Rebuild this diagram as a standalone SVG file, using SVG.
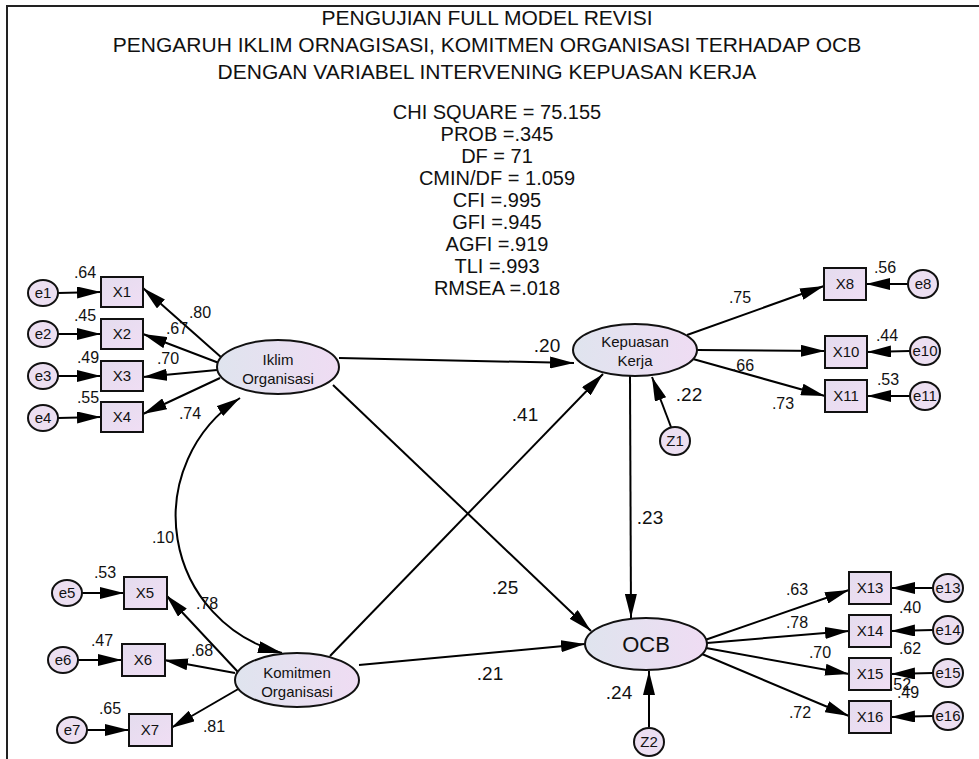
<svg xmlns="http://www.w3.org/2000/svg" width="979" height="759" viewBox="0 0 979 759">
<defs>
<marker id="ah" markerUnits="userSpaceOnUse" markerWidth="24" markerHeight="12" refX="24" refY="6" orient="auto-start-reverse"><path d="M0,0 L24,6 L0,12 z" fill="#000"/></marker>
<linearGradient id="gl" x1="0" y1="0" x2="1" y2="0"><stop offset="0" stop-color="#dfe4ee"/><stop offset="1" stop-color="#efdcf3"/></linearGradient>
<linearGradient id="gb" x1="0" y1="0" x2="1" y2="1"><stop offset="0" stop-color="#e4dcee"/><stop offset="1" stop-color="#f0def4"/></linearGradient>
</defs>
<style>
text{font-family:"Liberation Sans",Arial,sans-serif;fill:#111;}
.t{font-size:21px;text-anchor:middle;}
.s{font-size:20px;text-anchor:middle;}
.n{font-size:15px;text-anchor:middle;}
.big{font-size:22px;text-anchor:middle;}
.l{font-size:16px;text-anchor:middle;}
.L{font-size:19px;text-anchor:middle;}
.box{fill:url(#gb);stroke:#111;stroke-width:2;}
.lat{fill:url(#gl);stroke:#111;stroke-width:2;}
.err{fill:#ecdff1;stroke:#111;stroke-width:2;}
.c line,.c path{stroke:#000;stroke-width:2;fill:none;marker-end:url(#ah);}
</style>
<rect width="979" height="759" fill="#fff"/>
<path d="M979 6 H7 V759" fill="none" stroke="#222" stroke-width="2"/>
<g id="title">
<text class="t" x="487" y="25">PENGUJIAN FULL MODEL REVISI</text>
<text class="t" x="487" y="52">PENGARUH IKLIM ORNAGISASI, KOMITMEN ORGANISASI TERHADAP OCB</text>
<text class="t" x="487" y="79">DENGAN VARIABEL INTERVENING KEPUASAN KERJA</text>
</g>
<g id="stats">
<text class="s" x="497" y="119">CHI SQUARE = 75.155</text>
<text class="s" x="497" y="141">PROB =.345</text>
<text class="s" x="497" y="163">DF = 71</text>
<text class="s" x="497" y="185">CMIN/DF = 1.059</text>
<text class="s" x="497" y="207">CFI =.995</text>
<text class="s" x="497" y="229">GFI =.945</text>
<text class="s" x="497" y="251">AGFI =.919</text>
<text class="s" x="497" y="273">TLI =.993</text>
<text class="s" x="497" y="295">RMSEA =.018</text>
</g>
<g id="connectors" class="c">
<line x1="58" y1="293" x2="101" y2="292"/>
<line x1="58" y1="334" x2="101" y2="334"/>
<line x1="58" y1="376" x2="101" y2="376"/>
<line x1="58" y1="418" x2="101" y2="417"/>
<line x1="82" y1="593" x2="124" y2="593"/>
<line x1="78" y1="660" x2="122" y2="660"/>
<line x1="87" y1="730" x2="129" y2="730"/>
<line x1="908" y1="284" x2="866" y2="284"/>
<line x1="910" y1="351" x2="867" y2="352"/>
<line x1="910" y1="396" x2="867" y2="396"/>
<line x1="933" y1="588" x2="891" y2="588"/>
<line x1="933" y1="630" x2="891" y2="631"/>
<line x1="933" y1="673" x2="891" y2="674"/>
<line x1="933" y1="716" x2="891" y2="717"/>
<line x1="222" y1="358" x2="143" y2="288"/>
<line x1="219" y1="363" x2="143" y2="334"/>
<line x1="217" y1="370" x2="143" y2="377"/>
<line x1="220" y1="378" x2="143" y2="414"/>
<line x1="238" y1="672" x2="166" y2="595"/>
<line x1="235" y1="673" x2="164" y2="660"/>
<line x1="240" y1="688" x2="171" y2="728"/>
<path d="M240 398 A141 141 0 0 0 282 653" style="marker-start:url(#ah)"/>
<line x1="339" y1="358" x2="574" y2="363"/>
<line x1="333" y1="385" x2="591" y2="631"/>
<line x1="330" y1="656" x2="603" y2="374"/>
<line x1="359" y1="665" x2="585" y2="644"/>
<line x1="630" y1="376" x2="631" y2="618"/>
<line x1="671" y1="427" x2="652" y2="377"/>
<line x1="649" y1="727" x2="649" y2="671"/>
<line x1="687" y1="335" x2="824" y2="286"/>
<line x1="697" y1="350" x2="825" y2="351"/>
<line x1="693" y1="359" x2="825" y2="396"/>
<line x1="705" y1="640" x2="849" y2="590"/>
<line x1="707" y1="643" x2="849" y2="631"/>
<line x1="706" y1="648" x2="849" y2="674"/>
<line x1="702" y1="654" x2="849" y2="716"/>
</g>
<g id="Iklim"><ellipse class="lat" cx="278" cy="367" rx="61" ry="27"/><text class="n" x="278" y="365">Iklim</text><text class="n" x="278" y="384">Organisasi</text></g>
<g id="Komitmen"><ellipse class="lat" cx="297" cy="680" rx="62" ry="27"/><text class="n" x="297" y="678">Komitmen</text><text class="n" x="297" y="697">Organisasi</text></g>
<g id="Kepuasan"><ellipse class="lat" cx="635" cy="350" rx="62" ry="26"/><text class="n" x="635" y="347">Kepuasan</text><text class="n" x="635" y="366">Kerja</text></g>
<g id="OCB"><ellipse class="lat" cx="646" cy="644" rx="61" ry="26"/><text class="big" x="646" y="652">OCB</text></g>
<g id="Z1"><ellipse class="err" cx="675" cy="441" rx="15" ry="14"/><text class="n" x="675" y="446">Z1</text></g>
<g id="Z2"><ellipse class="err" cx="649" cy="742" rx="15" ry="14"/><text class="n" x="649" y="747">Z2</text></g>
<g id="X1"><rect class="box" x="101" y="277" width="42" height="30"/><text class="n" x="122" y="297">X1</text></g>
<g id="X2"><rect class="box" x="101" y="319" width="42" height="30"/><text class="n" x="122" y="339">X2</text></g>
<g id="X3"><rect class="box" x="101" y="361" width="42" height="30"/><text class="n" x="122" y="381">X3</text></g>
<g id="X4"><rect class="box" x="101" y="402" width="42" height="30"/><text class="n" x="122" y="422">X4</text></g>
<g id="X5"><rect class="box" x="124" y="577" width="43" height="32"/><text class="n" x="145" y="598">X5</text></g>
<g id="X6"><rect class="box" x="122" y="644" width="43" height="32"/><text class="n" x="143" y="665">X6</text></g>
<g id="X7"><rect class="box" x="129" y="714" width="43" height="32"/><text class="n" x="150" y="735">X7</text></g>
<g id="X8"><rect class="box" x="824" y="268" width="42" height="32"/><text class="n" x="845" y="289">X8</text></g>
<g id="X10"><rect class="box" x="825" y="336" width="42" height="32"/><text class="n" x="846" y="357">X10</text></g>
<g id="X11"><rect class="box" x="825" y="380" width="42" height="32"/><text class="n" x="846" y="401">X11</text></g>
<g id="X13"><rect class="box" x="849" y="572" width="42" height="32"/><text class="n" x="870" y="593">X13</text></g>
<g id="X14"><rect class="box" x="849" y="615" width="42" height="32"/><text class="n" x="870" y="636">X14</text></g>
<g id="X15"><rect class="box" x="849" y="658" width="42" height="32"/><text class="n" x="870" y="679">X15</text></g>
<g id="X16"><rect class="box" x="849" y="701" width="42" height="32"/><text class="n" x="870" y="722">X16</text></g>
<g id="e1"><ellipse class="err" cx="43" cy="293" rx="15" ry="13"/><text class="n" x="43" y="298">e1</text></g>
<g id="e2"><ellipse class="err" cx="43" cy="334" rx="15" ry="13"/><text class="n" x="43" y="339">e2</text></g>
<g id="e3"><ellipse class="err" cx="43" cy="376" rx="15" ry="13"/><text class="n" x="43" y="381">e3</text></g>
<g id="e4"><ellipse class="err" cx="43" cy="418" rx="15" ry="13"/><text class="n" x="43" y="423">e4</text></g>
<g id="e5"><ellipse class="err" cx="67" cy="593" rx="15" ry="13"/><text class="n" x="67" y="598">e5</text></g>
<g id="e6"><ellipse class="err" cx="63" cy="660" rx="15" ry="13"/><text class="n" x="63" y="665">e6</text></g>
<g id="e7"><ellipse class="err" cx="72" cy="730" rx="15" ry="13"/><text class="n" x="72" y="735">e7</text></g>
<g id="e8"><ellipse class="err" cx="923" cy="284" rx="15" ry="14"/><text class="n" x="923" y="289">e8</text></g>
<g id="e10"><ellipse class="err" cx="925" cy="351" rx="15" ry="14"/><text class="n" x="925" y="356">e10</text></g>
<g id="e11"><ellipse class="err" cx="925" cy="396" rx="15" ry="14"/><text class="n" x="925" y="401">e11</text></g>
<g id="e13"><ellipse class="err" cx="948" cy="588" rx="15" ry="14"/><text class="n" x="948" y="593">e13</text></g>
<g id="e14"><ellipse class="err" cx="948" cy="630" rx="15" ry="14"/><text class="n" x="948" y="635">e14</text></g>
<g id="e15"><ellipse class="err" cx="948" cy="673" rx="15" ry="14"/><text class="n" x="948" y="678">e15</text></g>
<g id="e16"><ellipse class="err" cx="948" cy="716" rx="15" ry="14"/><text class="n" x="948" y="721">e16</text></g>
<g id="labels">
<text class="l" x="85" y="278">.64</text>
<text class="l" x="85" y="321">.45</text>
<text class="l" x="88" y="363">.49</text>
<text class="l" x="88" y="403">.55</text>
<text class="l" x="200" y="318">.80</text>
<text class="l" x="177" y="334">.67</text>
<text class="l" x="168" y="364">.70</text>
<text class="l" x="190" y="419">.74</text>
<text class="l" x="105" y="578">.53</text>
<text class="l" x="102" y="646">.47</text>
<text class="l" x="110" y="714">.65</text>
<text class="l" x="207" y="609">.78</text>
<text class="l" x="202" y="656">.68</text>
<text class="l" x="214" y="732">.81</text>
<text class="l" x="163" y="543">.10</text>
<text class="L" x="547" y="352">.20</text>
<text class="L" x="525" y="421">.41</text>
<text class="L" x="505" y="594">.25</text>
<text class="L" x="490" y="680">.21</text>
<text class="L" x="650" y="524">.23</text>
<text class="L" x="689" y="401">.22</text>
<text class="L" x="619" y="699">.24</text>
<text class="l" x="740" y="303">.75</text>
<text class="l" x="743" y="371">.66</text>
<text class="l" x="783" y="409">.73</text>
<text class="l" x="885" y="273">.56</text>
<text class="l" x="887" y="341">.44</text>
<text class="l" x="888" y="385">.53</text>
<text class="l" x="797" y="595">.63</text>
<text class="l" x="797" y="628">.78</text>
<text class="l" x="820" y="658">.70</text>
<text class="l" x="800" y="718">.72</text>
<text class="l" x="910" y="613">.40</text>
<text class="l" x="910" y="654">.62</text>
<text class="l" x="900" y="690">.52</text>
<text class="l" x="908" y="698">.49</text>
</g>
</svg>
